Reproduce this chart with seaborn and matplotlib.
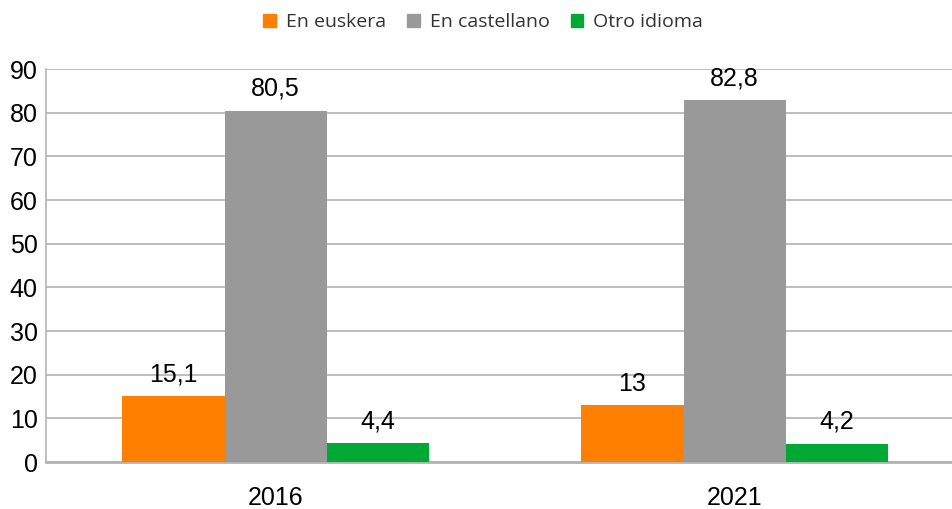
import pandas as pd
import matplotlib.pyplot as plt
import seaborn as sns

# data
years = ["2016", "2021"]
languages = ["En euskera", "En castellano", "Otro idioma"]
euskera = [15.1, 13.0]
castellano = [80.5, 82.8]
otro = [4.4, 4.2]
colors = ["#ff8000", "#999999", "#00a933"]

df = pd.DataFrame({
    "year": years * 3,
    "lang": [languages[0]] * 2 + [languages[1]] * 2 + [languages[2]] * 2,
    "value": euskera + castellano + otro,
})

sns.set_style("white")
plt.rcParams["font.family"] = ["Liberation Sans", "DejaVu Sans"]
plt.rcParams["text.color"] = "black"

fig = plt.figure(figsize=(9.53, 5.09), dpi=100)
# the plot area runs past the right edge of the picture, as in the original
ax = fig.add_axes([0.0483, 0.0923, 0.9633, 0.7721])

sns.barplot(data=df, x="year", y="value", hue="lang", hue_order=languages,
            palette=colors, width=0.667, saturation=1, linewidth=0,
            ax=ax, zorder=3)

ax.set_ylim(0, 90)
ax.set_yticks(range(0, 91, 10))
ax.grid(axis="y", color="#b3b3b3", linewidth=1.2, zorder=0)
ax.set_xlabel("")
ax.set_ylabel("")
ax.tick_params(axis="both", length=0, labelsize=18, colors="black")
ax.tick_params(axis="x", pad=17)
ax.tick_params(axis="y", pad=6)
for s in ax.spines.values():
    s.set_color("#b3b3b3")
    s.set_linewidth(1.2)
ax.spines["bottom"].set_linewidth(2)
ax.spines["right"].set_visible(False)
ax.spines["top"].set_visible(False)

# value labels with decimal comma
for cont in ax.containers:
    labels = [f"{b.get_height():g}".replace(".", ",") for b in cont]
    ax.bar_label(cont, labels=labels, padding=7, fontsize=18, color="black")

# legend on top
ax.get_legend().remove()
handles = [plt.Rectangle((0, 0), 1, 1, color=c) for c in colors]
fig.legend(handles, languages, loc="center", bbox_to_anchor=(0.507, 0.957),
           ncol=3, frameon=False, prop={"family": "Open Sans", "size": 14},
           labelcolor="#333333", handlelength=0.65, handleheight=0.65,
           handletextpad=0.5, columnspacing=1.1)

plt.savefig("out.png", dpi=100)
